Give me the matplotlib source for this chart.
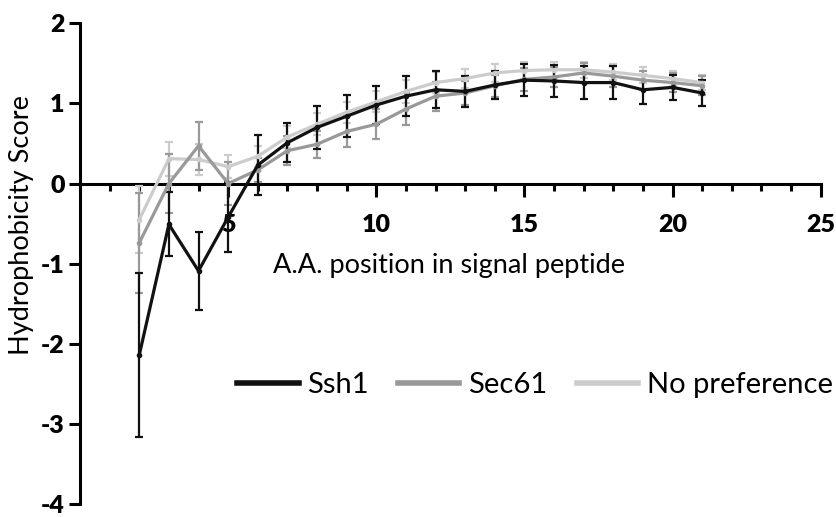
import numpy as np
import matplotlib
matplotlib.use("Agg")
import matplotlib.pyplot as plt
from matplotlib.ticker import MultipleLocator

plt.rcParams["axes.unicode_minus"] = False

# amino-acid positions
positions = list(range(2, 22))

ssh1 = [-2.14, -0.51, -1.09, -0.42, 0.23, 0.51, 0.70, 0.84, 0.98, 1.09,
        1.17, 1.15, 1.23, 1.29, 1.28, 1.26, 1.26, 1.17, 1.20, 1.13]
ssh1_err = [1.02, 0.40, 0.49, 0.44, 0.37, 0.24, 0.27, 0.26, 0.24, 0.25,
            0.23, 0.19, 0.18, 0.20, 0.20, 0.21, 0.21, 0.18, 0.16, 0.16]

sec61 = [-0.74, 0.00, 0.47, 0.00, 0.17, 0.41, 0.49, 0.65, 0.74, 0.93,
         1.09, 1.13, 1.22, 1.30, 1.33, 1.38, 1.34, 1.29, 1.26, 1.22]
sec61_err = [0.62, 0.37, 0.30, 0.27, 0.15, 0.18, 0.17, 0.19, 0.19, 0.20,
             0.18, 0.15, 0.14, 0.14, 0.13, 0.13, 0.13, 0.12, 0.12, 0.12]

nopref = [-0.45, 0.31, 0.30, 0.21, 0.34, 0.58, 0.74, 0.89, 1.02, 1.15,
          1.26, 1.31, 1.38, 1.41, 1.42, 1.42, 1.39, 1.35, 1.31, 1.26]
nopref_err = [0.42, 0.21, 0.19, 0.14, 0.13, 0.14, 0.14, 0.13, 0.13, 0.14,
              0.13, 0.12, 0.11, 0.11, 0.10, 0.10, 0.10, 0.10, 0.09, 0.09]

series = [
    ("No preference", nopref, nopref_err, "#cccccc"),
    ("Sec61", sec61, sec61_err, "#999999"),
    ("Ssh1", ssh1, ssh1_err, "#111111"),
]

fig = plt.figure(figsize=(8.36, 5.17), dpi=100)
ax = fig.add_axes([0.0957, 0.025, 0.886, 0.930])

handles = {}
for name, vals, errs, col in series:
    h = ax.errorbar(positions, vals, yerr=errs, color=col, lw=2.3,
                    elinewidth=1.6, capsize=3, capthick=1.6,
                    marker="o", ms=3, zorder=3, label=name)
    handles[name] = h[0]

ax.set_xlim(0, 25)
ax.set_ylim(-4, 2)

for s in ["top", "right"]:
    ax.spines[s].set_visible(False)
ax.spines["bottom"].set_position(("data", 0))
ax.spines["left"].set_linewidth(2.2)
ax.spines["bottom"].set_linewidth(2.2)
ax.spines["bottom"].set_zorder(2)

ax.xaxis.set_minor_locator(MultipleLocator(1))
ax.yaxis.set_major_locator(MultipleLocator(1))
ax.set_xticks([5, 10, 15, 20, 25])

ax.tick_params(axis="x", which="major", direction="out", length=9, width=2.2, pad=13)
ax.tick_params(axis="x", which="minor", direction="out", length=5, width=2.2)
ax.tick_params(axis="y", which="major", direction="out", length=8, width=2.2, pad=3)
for lab in ax.get_xticklabels() + ax.get_yticklabels():
    lab.set_fontfamily(["Lato", "DejaVu Sans"])
    lab.set_fontweight("heavy")
    lab.set_fontsize(18)

ax.set_ylabel("Hydrophobicity Score", fontsize=19.5, family="Lato")
ax.yaxis.set_label_coords(-0.062, 0.58)
ax.text(12.45, -1.02, "A.A. position in signal peptide", fontsize=19.5,
        family="Lato", ha="center", va="center")

leg = ax.legend([handles["Ssh1"], handles["Sec61"], handles["No preference"]],
                ["Ssh1", "Sec61", "No preference"], ncol=3, frameon=False,
                loc="center right", bbox_to_anchor=(1.016, 0.248),
                handlelength=2.1, handletextpad=0.3, columnspacing=1.0,
                prop={"family": "Lato", "size": 21}, borderaxespad=0,
                borderpad=0)
for lh in leg.get_lines():
    lh.set_linewidth(4)
    lh.set_marker("")

fig.savefig("out.png", dpi=100)
